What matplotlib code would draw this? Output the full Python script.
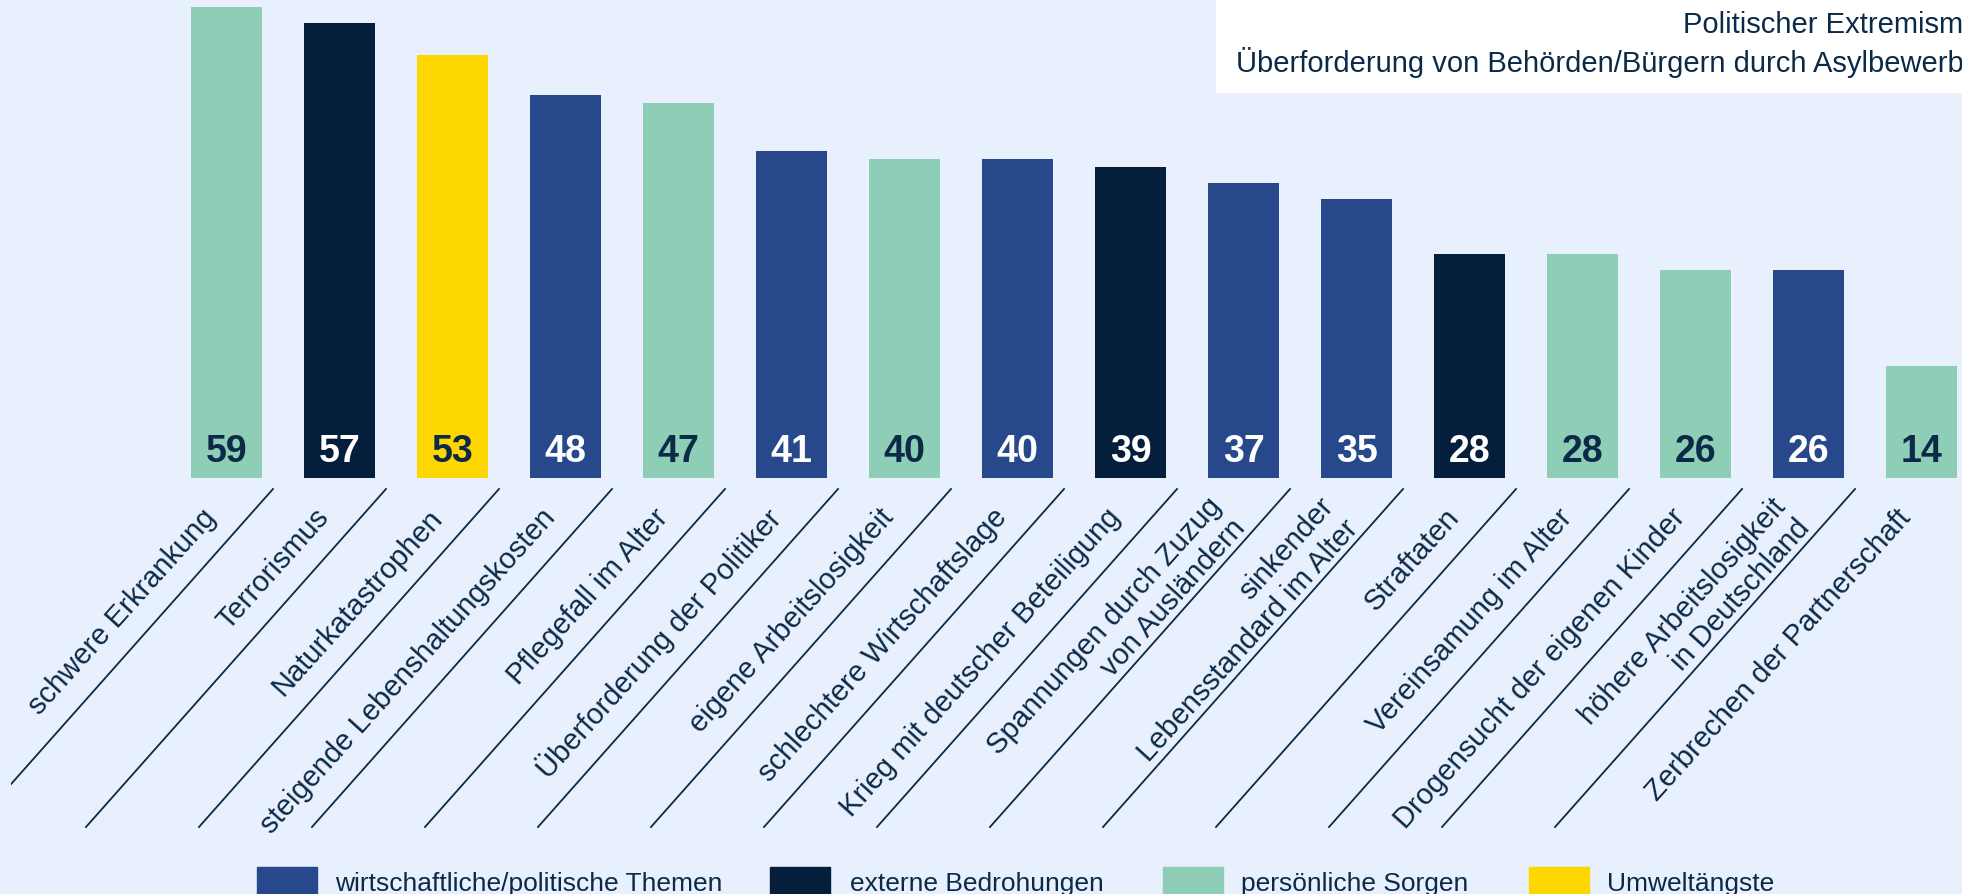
import numpy as np
import matplotlib
matplotlib.use("Agg")
import matplotlib.pyplot as plt
import matplotlib.transforms as mtransforms
from matplotlib.patches import Rectangle
from matplotlib.lines import Line2D

plt.rcParams['font.family'] = ['Liberation Sans', 'DejaVu Sans']

# Daten (Anteile in %)
categories = [
    "schwere Erkrankung", "Terrorismus", "Naturkatastrophen",
    "steigende Lebenshaltungskosten", "Pflegefall im Alter",
    "Überforderung der Politiker", "eigene Arbeitslosigkeit",
    "schlechtere Wirtschaftslage", "Krieg mit deutscher Beteiligung",
    "Spannungen durch Zuzug\nvon Ausländern", "sinkender\nLebensstandard im Alter",
    "Straftaten", "Vereinsamung im Alter", "Drogensucht der eigenen Kinder",
    "höhere Arbeitslosigkeit\nin Deutschland", "Zerbrechen der Partnerschaft",
]
values = [59, 57, 53, 48, 47, 41, 40, 40, 39, 37, 35, 28, 28, 26, 26, 14]
groups = ["pers", "ext", "umw", "wirt", "pers", "wirt", "pers", "wirt",
          "ext", "wirt", "wirt", "ext", "pers", "pers", "wirt", "pers"]

group_keys = ["wirt", "ext", "pers", "umw"]
group_names = ["wirtschaftliche/politische Themen", "externe Bedrohungen",
               "persönliche Sorgen", "Umweltängste"]
box_lines = ["Politischer Extremismus",
             "Überforderung von Behörden/Bürgern durch Asylbewerber"]

BG = "#E8EFFD"
TXT = "#0B2A48"
colors = {"wirt": "#27488B", "ext": "#051E3C", "pers": "#8ECDB6", "umw": "#FFD700"}
label_col = {"wirt": "white", "ext": "white", "pers": TXT, "umw": TXT}

W, H = 1962, 895
fig = plt.figure(figsize=(W / 100, H / 100), dpi=100, facecolor=BG)
ax = fig.add_axes([0, (H - 479) / H, 1, 479 / H])
ax.set_facecolor(BG)

x = np.arange(len(values))
ax.bar(x, values, width=0.63, color=[colors[g] for g in groups])
ax.set_xlim(-2.004, 15.358)
ax.set_ylim(0, 60)
ax.axis("off")

# Werte unten in den Balken
for i, v in enumerate(values):
    ax.annotate(str(v), xy=(i, 0), xytext=(0, 12), textcoords="offset points",
                ha="center", va="baseline", fontsize=27, fontweight="bold",
                color=label_col[groups[i]])

# Kategorien schraeg unter den Balken
for i, cat in enumerate(categories):
    ax.annotate(cat, xy=(i, 0), xytext=(-11, -24.5), textcoords="offset points",
                rotation=48, rotation_mode="anchor", ha="right", va="center",
                multialignment="right", fontsize=21, color=TXT,
                annotation_clip=False)

# Trennlinien zwischen den Kategorien
clip = Rectangle((11, 0), 4000, 4000, transform=mtransforms.IdentityTransform())
for b in x[:-1] + 0.5:
    bx, by = ax.transData.transform((b, 0))
    ln = Line2D([bx - 10, bx - 310], [by - 11, by - 349],
                transform=mtransforms.IdentityTransform(), color=TXT, lw=1.3)
    ln.set_clip_path(clip)
    fig.add_artist(ln)

# Kasten oben rechts (abgeschnitten)
fig.add_artist(Rectangle((1216 / W, (H - 93) / H), 1, 1,
                         transform=fig.transFigure, color="white", zorder=0.5))
fig.text(1994 / W, (H - 33) / H, box_lines[0], ha="right", va="baseline",
         fontsize=21, color=TXT)
fig.text(1990 / W, (H - 72) / H, box_lines[1], ha="right", va="baseline",
         fontsize=21, color=TXT)

# Legende unten (abgeschnitten)
leg_patch_x = [257, 770, 1163, 1529]
leg_text_x = [335, 850, 1241, 1607]
for key, name, px, tx in zip(group_keys, group_names, leg_patch_x, leg_text_x):
    fig.add_artist(Rectangle((px / W, 0), 60 / W, 27 / H,
                             transform=fig.transFigure, color=colors[key]))
    fig.text(tx / W, 4 / H, name, ha="left", va="baseline", fontsize=19, color=TXT)

fig.savefig("out.png", dpi=100, facecolor=BG)
